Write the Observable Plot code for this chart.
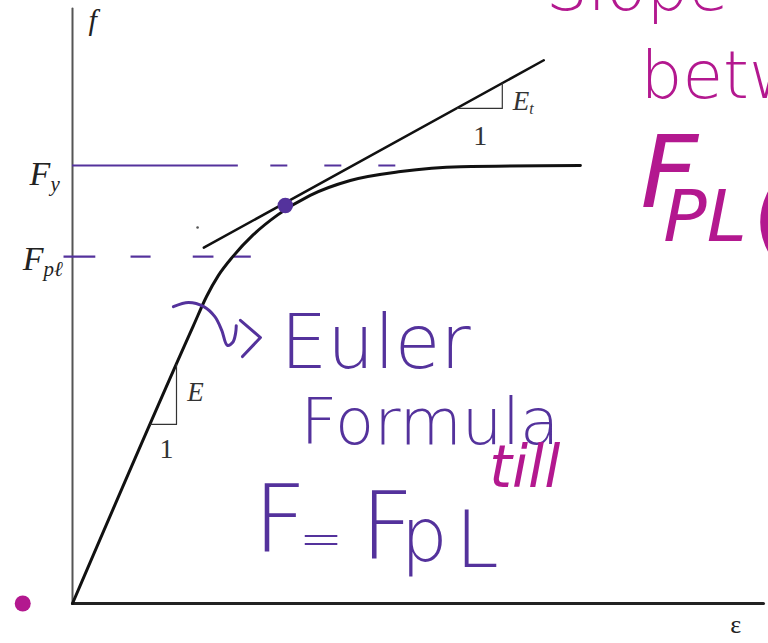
<!DOCTYPE html>
<html><head><meta charset="utf-8">
<script src="https://cdn.jsdelivr.net/npm/d3@7"></script>
<script src="https://cdn.jsdelivr.net/npm/@observablehq/plot@0.6"></script>
<style>html,body{margin:0;padding:0;background:#fff;overflow:hidden;width:768px;height:643px}</style>
</head><body><div id="chart"></div>
<script>
// Stress–strain curve (strain ε on x, stress f on y), arbitrary units
const strain = [0, 1.75, 1.94, 2.11, 2.32, 2.61, 2.98, 3.44, 4.02, 4.75, 5.62, 7.35];
const stress = [0, 4.67, 5.16, 5.51, 5.83, 6.19, 6.54, 6.86, 7.11, 7.26, 7.34, 7.36];
const Fy = 7.36;
const Fpl = 5.83;
// tangent modulus line
const tangentStrain = [1.90, 6.82];
const tangentStress = [5.98, 9.13];
// slope triangles
const eTriStrain = [1.13, 1.505, 1.505];
const eTriStress = [3.01, 3.01, 4.02];
const etTriStrain = [5.57, 6.22, 6.22];
const etTriStress = [8.32, 8.32, 8.74];
// reference lines (hand-drawn)
const fySolid = [0, 2.40];
const fyDashed = [2.87, 4.75];
const fplDashes = [[-0.13, 0.33], [0.84, 1.13], [1.74, 2.04], [2.33, 2.58]];
// hand-drawn marks
const tangentPoint = [3.08, 6.69];
const originMark = [-0.72, 0];
const strayDot = [1.81, 6.32];
const arrowStrain = [1.46, 1.68, 1.90, 2.06, 2.16, 2.24, 2.32, 2.36, 2.37];
const arrowStress = [4.99, 5.06, 4.99, 4.82, 4.59, 4.34, 4.39, 4.54, 4.67];
const arrowHeadStrain = [2.43, 2.72, 2.46];
const arrowHeadStress = [4.76, 4.47, 4.15];
// printed labels
const axisMax = [10, 10];
const printedF = [{text: "f", x: 0.23, y: 9.64}];
const printedEps = [{text: "ε", x: 9.52, y: -0.49}];
const tickF = [{text: "F", x: -0.32, y: 7.03}, {text: "F", x: -0.42, y: 5.60}];
const tickSub = [{text: "y", x: -0.32, y: 6.93}, {text: "pℓ", x: -0.42, y: 5.50}];
const slopeLabels = [{text: "E", x: 1.66, y: 3.41}, {text: "E", x: 6.37, y: 8.29}];
const slopeSub = [{text: "t", x: 6.61, y: 8.22}];
const slopeOnes = [{text: "1", x: 1.36, y: 2.45}, {text: "1", x: 5.90, y: 7.70}];
// handwritten notes
const violetEuler = [{text: "Euler", x: 3.01, y: 3.95}];
const violetFormula = [{text: "Formula", x: 3.30, y: 2.68}];
const violetBig = [{text: "F", x: 2.62, y: 0.89}, {text: "F", x: 4.17, y: 0.76}];
const violetEq = [{text: "=", x: 3.28, y: 0.80}];
const violetP = [{text: "p", x: 4.75, y: 0.72}];
const violetL = [{text: "L", x: 5.54, y: 0.61}];
const magentaNotes = [
  {text: "Slope", x: 6.85, y: 9.97},
  {text: "between", x: 8.22, y: 8.50}
];
const magentaTill = [{text: "till", x: 6.03, y: 1.95}];
const magentaF = [{text: "F", x: 8.22, y: 6.66}, {text: "(", x: 9.84, y: 6.10}];
const magentaPL = [{text: "PL", x: 8.55, y: 6.10}];

const violet = "#54329c";
const magenta = "#b3188f";
const hand = "'DejaVu Sans', sans-serif";
const serif = "'Liberation Serif', 'DejaVu Serif', serif";
const zip = (a, b) => a.map((v, i) => [v, b[i]]);
const T = {x: "x", y: "y", text: "text", textAnchor: "start", lineAnchor: "bottom"};

const chart = Plot.plot({
  width: 768,
  height: 643,
  x: {domain: [0, axisMax[0]], range: [72, 763], axis: null},
  y: {domain: [0, axisMax[1]], range: [603, 8], axis: null},
  style: {background: "#fff", overflow: "hidden"},
  marks: [
    // axes
    Plot.line([[0, 0], [0, axisMax[1]]], {stroke: "#555", strokeWidth: 2}),
    Plot.line([[0, 0], [axisMax[0], 0]], {stroke: "#222", strokeWidth: 3}),
    // hand reference lines
    Plot.ruleY([Fy], {x1: fySolid[0], x2: fySolid[1], stroke: violet, strokeWidth: 2}),
    Plot.ruleY([Fy], {x1: fyDashed[0], x2: fyDashed[1], stroke: violet, strokeWidth: 2, strokeDasharray: "17,37"}),
    Plot.link(fplDashes, {x1: d => d[0], x2: d => d[1], y1: Fpl, y2: Fpl, stroke: violet, strokeWidth: 2.2}),
    // curve and tangent
    Plot.line(zip(strain, stress), {stroke: "#111", strokeWidth: 3, curve: "monotone-x"}),
    Plot.line(zip(tangentStrain, tangentStress), {stroke: "#111", strokeWidth: 2.5}),
    Plot.line(zip(eTriStrain, eTriStress), {stroke: "#333", strokeWidth: 1.2}),
    Plot.line(zip(etTriStrain, etTriStress), {stroke: "#333", strokeWidth: 1.2}),
    // printed labels
    Plot.text(printedF, {...T, fontFamily: serif, fontStyle: "italic", fontSize: 30, fill: "#222"}),
    Plot.text(printedEps, {...T, fontFamily: serif, fontSize: 26, fill: "#222"}),
    Plot.text(tickF, {...T, textAnchor: "end", fontFamily: serif, fontStyle: "italic", fontSize: 34, fill: "#222"}),
    Plot.text(tickSub, {...T, fontFamily: serif, fontStyle: "italic", fontSize: 21, fill: "#222"}),
    Plot.text(slopeLabels, {...T, fontFamily: serif, fontStyle: "italic", fontSize: 27, fill: "#333"}),
    Plot.text(slopeSub, {...T, fontFamily: serif, fontStyle: "italic", fontSize: 16, fill: "#333"}),
    Plot.text(slopeOnes, {...T, textAnchor: "middle", fontFamily: serif, fontSize: 28, fill: "#333"}),
    // hand marks
    Plot.dot([tangentPoint], {r: 7, fill: violet, stroke: violet}),
    Plot.dot([originMark], {r: 8, fill: magenta}),
    Plot.dot([strayDot], {r: 1.3, fill: "#555"}),
    Plot.line(zip(arrowStrain, arrowStress), {stroke: violet, strokeWidth: 3, curve: "catmull-rom"}),
    Plot.line(zip(arrowHeadStrain, arrowHeadStress), {stroke: violet, strokeWidth: 3}),
    // handwritten text
    Plot.text(violetEuler, {...T, fontFamily: hand, fontWeight: 200, fontSize: 74, fill: violet}),
    Plot.text(violetFormula, {...T, fontFamily: hand, fontWeight: 200, fontSize: 64, fill: violet}),
    Plot.text(violetBig, {...T, fontFamily: hand, fontWeight: 200, fontSize: 92, fill: violet}),
    Plot.text(violetEq, {...T, fontFamily: hand, fontWeight: 200, fontSize: 52, fill: violet}),
    Plot.text(violetP, {...T, fontFamily: hand, fontWeight: 200, fontSize: 74, fill: violet}),
    Plot.text(violetL, {...T, fontFamily: hand, fontWeight: 200, fontSize: 78, fill: violet}),
    Plot.text(magentaNotes, {...T, fontFamily: hand, fontWeight: 300, fontSize: 66, fill: magenta}),
    Plot.text(magentaTill, {...T, fontFamily: hand, fontStyle: "italic", fontWeight: 300, fontSize: 58, fill: magenta}),
    Plot.text(magentaF, {...T, fontFamily: hand, fontStyle: "italic", fontWeight: 300, fontSize: 100, fill: magenta}),
    Plot.text(magentaPL, {...T, fontFamily: hand, fontStyle: "italic", fontWeight: 300, fontSize: 72, fill: magenta})
  ]
});
document.getElementById("chart").appendChild(chart);
</script>
</body></html>
